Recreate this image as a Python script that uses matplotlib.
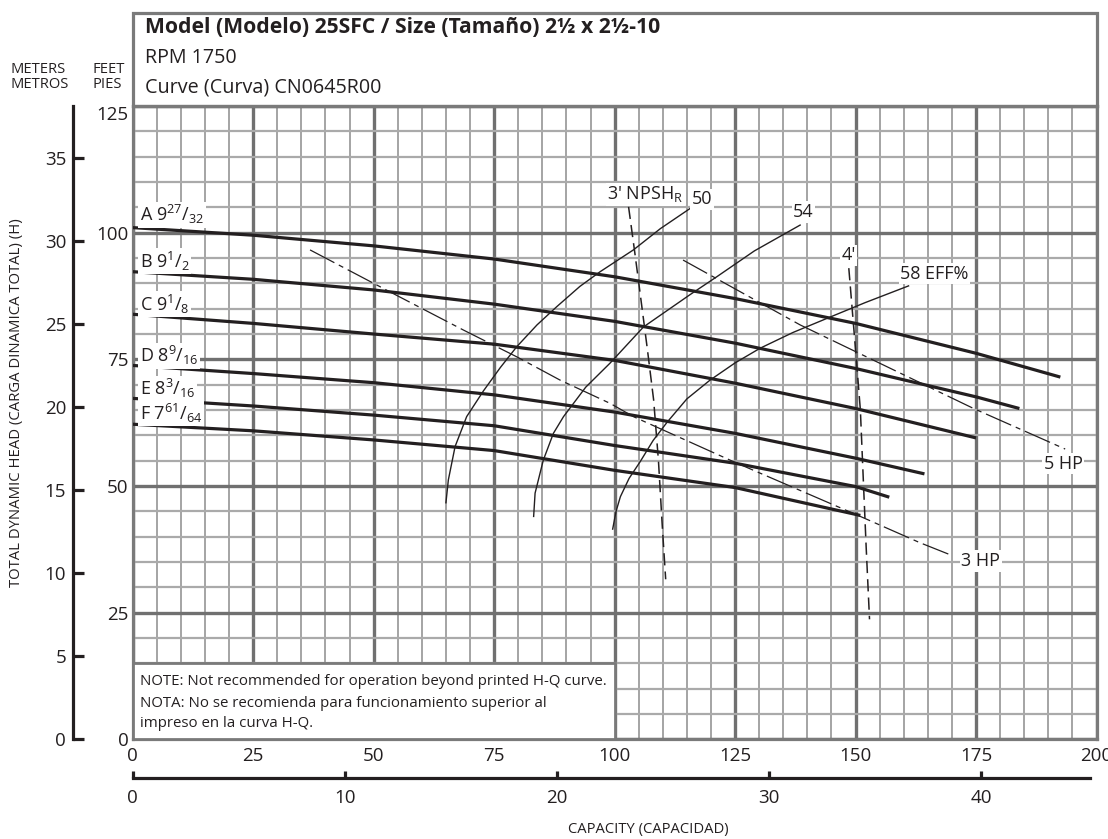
import numpy as np
import matplotlib
matplotlib.use("Agg")
import matplotlib.pyplot as plt
from matplotlib.patches import Rectangle

plt.rcParams['font.family'] = ['Open Sans', 'DejaVu Sans']
plt.rcParams['mathtext.fontset'] = 'custom'
plt.rcParams['mathtext.rm'] = 'Open Sans'
plt.rcParams['mathtext.it'] = 'Open Sans:italic'
plt.rcParams['mathtext.bf'] = 'Open Sans:bold'
plt.rcParams['mathtext.default'] = 'regular'

# ---------------------------------------------------------------- data
# Impeller head-capacity curves: capacity (gpm) and total head (ft)
imp_labels = [r'A $9^{27}/_{32}$', r'B $9^{1}/_{2}$', r'C $9^{1}/_{8}$',
              r'D $8^{9}/_{16}$', r'E $8^{3}/_{16}$', r'F $7^{61}/_{64}$']
imp_label_head = [103.5, 94.4, 85.9, 75.7, 69.2, 64.4]

q_A = [0, 25, 50, 75, 100, 125, 150, 175, 192.5]
h_A = [101.0, 99.5, 97.4, 94.8, 91.3, 87.0, 82.1, 76.2, 71.5]
q_B = [0, 25, 50, 75, 100, 125, 150, 175, 184]
h_B = [92.3, 90.8, 88.7, 85.9, 82.5, 78.2, 73.2, 67.6, 65.3]
q_C = [0, 25, 50, 75, 100, 125, 150, 175]
h_C = [83.9, 82.1, 80.0, 78.0, 74.8, 70.3, 65.3, 59.5]
q_D = [0, 25, 50, 75, 100, 125, 150, 164.3]
h_D = [73.8, 72.2, 70.4, 68.0, 64.6, 60.4, 55.5, 52.4]
q_E = [0, 25, 50, 75, 100, 125, 150, 157]
h_E = [67.3, 65.8, 64.0, 61.9, 58.0, 54.5, 49.9, 47.8]
q_F = [0, 25, 50, 75, 100, 125, 151]
h_F = [62.2, 60.9, 59.1, 57.0, 53.1, 49.7, 44.2]

# Efficiency iso-lines (%)
q_eff50 = [65.0, 65.5, 66.9, 69.3, 72.8, 76.3, 79.7, 83.9, 88.0, 92.8, 97.0, 103.9, 109.5, 115.7]
h_eff50 = [46.7, 51.2, 57.8, 63.7, 68.8, 73.4, 77.5, 81.8, 85.4, 89.4, 92.3, 96.6, 100.8, 104.8]
q_eff54 = [83.2, 83.5, 85.2, 87.3, 89.4, 94.0, 99.1, 106.0, 115.7, 121.2, 129.0, 138.5]
h_eff54 = [44.0, 48.6, 55.1, 60.4, 63.7, 69.5, 74.3, 81.4, 87.8, 91.3, 96.4, 101.5]
q_eff58 = [99.6, 100.3, 101.2, 103.0, 105.3, 108.0, 110.9, 115.0, 119.8, 125.0, 130.2, 137.0, 144.1, 152.0, 161.0]
h_eff58 = [41.5, 45.0, 47.9, 51.5, 54.8, 59.0, 62.6, 67.2, 70.9, 74.3, 77.2, 80.3, 83.1, 86.2, 89.5]

# Required NPSH lines (ft)
q_npsh3 = [102.9, 104.2, 105.3, 106.8, 108.1, 109.1, 109.9, 110.6]
h_npsh3 = [105.1, 96.0, 88.0, 77.0, 67.0, 55.0, 42.0, 31.6]
q_npsh4 = [148.6, 150.0, 151.0, 151.7, 152.2, 152.9]
h_npsh4 = [93.0, 76.9, 65.0, 49.2, 38.0, 23.7]

# Motor power lines (HP)
q_hp3 = [36.8, 52.0, 68.6, 79.7, 88.7, 99.1, 103.9, 124.7, 151.0, 163.4, 170.0]
h_hp3 = [96.6, 89.0, 80.8, 75.5, 70.9, 66.3, 63.7, 54.8, 44.0, 38.8, 36.3]
q_hp5 = [114.2, 138.5, 155.1, 174.5, 193.5]
h_hp5 = [94.6, 81.8, 74.2, 65.3, 57.3]

gpm_ticks = [0, 25, 50, 75, 100, 125, 150, 175, 200]
ft_ticks = [0, 25, 50, 75, 100, 125]
m_ticks = [0, 5, 10, 15, 20, 25, 30, 35]
m3h_ticks = [0, 10, 20, 30, 40]

FT_PER_M = 3.28084
GPM_PER_M3H = 4.402868

# ---------------------------------------------------------------- style
INK = '#231f20'
FRAME = '#7a7a7a'
W, H = 1108, 839


def fx(px):
    return px / W


def fy(py):
    return 1 - py / H


fig = plt.figure(figsize=(W / 100, H / 100), dpi=100)
fig.patch.set_facecolor('white')

L, R, T, B = 132.7, 1096.5, 106.0, 739.4
ax = fig.add_axes([fx(L), fy(B), fx(R) - fx(L), fy(T) - fy(B)])
ax.set_xlim(0, 200)
ax.set_ylim(0, 125)
ax.set_xticks(gpm_ticks)
ax.set_yticks(ft_ticks)
ax.set_xticks(np.arange(0, 201, 5), minor=True)
ax.set_yticks(np.arange(0, 126, 5), minor=True)
ax.set_axisbelow(True)
ax.xaxis.grid(True, which='minor', color='#8c8c8c', lw=1.1)
ax.yaxis.grid(True, which='minor', color='#aaaaaa', lw=1.6)
ax.xaxis.grid(True, which='major', color='#707070', lw=2.4)
ax.yaxis.grid(True, which='major', color='#707070', lw=2.4)
ax.tick_params(which='both', length=0, labelsize=13.5, colors=INK)
ax.tick_params(axis='x', pad=5.5)
ax.tick_params(axis='y', pad=3.2)
for s in ax.spines.values():
    s.set_color(FRAME)
    s.set_linewidth(2.3)
ax.get_yticklabels()[-1].set_va('top')

# Head-capacity curves
for q, h in [(q_A, h_A), (q_B, h_B), (q_C, h_C), (q_D, h_D), (q_E, h_E), (q_F, h_F)]:
    ax.plot(q, h, color=INK, lw=2.3, solid_capstyle='butt', zorder=3)

box = dict(facecolor='white', edgecolor='none', pad=1.2)
for lab, hy in zip(imp_labels, imp_label_head):
    ax.text(1.5, hy, lab, ha='left', va='center', fontsize=13, color=INK,
            bbox=box, zorder=5)

# Efficiency
for q, h in [(q_eff50, h_eff50), (q_eff54, h_eff54), (q_eff58, h_eff58)]:
    ax.plot(q, h, color=INK, lw=1.0, zorder=3)

# NPSH
for q, h in [(q_npsh3, h_npsh3), (q_npsh4, h_npsh4)]:
    ax.plot(q, h, color=INK, lw=1.1, dashes=(8, 4), zorder=3)

# Horsepower
for q, h in [(q_hp3, h_hp3), (q_hp5, h_hp5)]:
    ax.plot(q, h, color=INK, lw=0.9, dashes=(22, 4, 4, 4), zorder=3)

ax.text(98.5, 107.6, r"3' NPSH$_{R}$", ha='left', va='center', fontsize=13,
        color=INK, bbox=box, zorder=5)
ax.text(118.2, 106.6, '50', ha='center', va='center', fontsize=13, color=INK,
        bbox=box, zorder=5)
ax.text(139.2, 104.1, '54', ha='center', va='center', fontsize=13, color=INK,
        bbox=box, zorder=5)
ax.text(148.5, 95.5, "4'", ha='center', va='center', fontsize=13, color=INK,
        bbox=box, zorder=5)
ax.text(159.3, 91.9, '58 EFF%', ha='left', va='center', fontsize=13, color=INK,
        bbox=box, zorder=5)
ax.text(193.1, 54.4, '5 HP', ha='center', va='center', fontsize=13, color=INK,
        bbox=box, zorder=5)
ax.text(176.0, 35.2, '3 HP', ha='center', va='center', fontsize=13, color=INK,
        bbox=box, zorder=5)

# Operating note
ax.add_patch(Rectangle((0, 0), 100, 15, facecolor='white', edgecolor=FRAME,
                       lw=2.0, zorder=4))
note_lines = ['NOTE: Not recommended for operation beyond printed H-Q curve.',
              'NOTA: No se recomienda para funcionamiento superior al',
              'impreso en la curva H-Q.']
for line, base in zip(note_lines, [685, 707, 727]):
    fig.text(fx(140), fy(base), line, ha='left', va='baseline', fontsize=10.8,
             color=INK, zorder=6)

# Header box
fig.add_artist(Rectangle((fx(L), fy(T)), fx(R) - fx(L), fy(13) - fy(T),
                         transform=fig.transFigure, fill=False,
                         edgecolor=FRAME, lw=2.3))
fig.text(fx(145), fy(33), 'Model (Modelo) 25SFC / Size (Tamaño) 2½ x 2½-10',
         ha='left', va='baseline', fontsize=15.2, fontweight='bold', color=INK)
fig.text(fx(145), fy(63), 'RPM 1750', ha='left', va='baseline', fontsize=14.2,
         color=INK)
fig.text(fx(145), fy(92), 'Curve (Curva) CN0645R00', ha='left', va='baseline',
         fontsize=14.2, color=INK)

# Unit captions
fig.text(fx(10), fy(73), 'METERS', ha='left', va='baseline', fontsize=10.6, color=INK)
fig.text(fx(10), fy(88.5), 'METROS', ha='left', va='baseline', fontsize=10.6, color=INK)
fig.text(fx(93), fy(73), 'FEET', ha='left', va='baseline', fontsize=10.6, color=INK)
fig.text(fx(93), fy(88.5), 'PIES', ha='left', va='baseline', fontsize=10.6, color=INK)

# Metric head scale
axm = fig.add_axes([fx(72.5), fy(B), 0.0005, fy(T) - fy(B)])
axm.set_ylim(0, 125 / FT_PER_M)
axm.set_yticks(m_ticks)
axm.set_xticks([])
axm.patch.set_visible(False)
for side in ['right', 'top', 'bottom']:
    axm.spines[side].set_visible(False)
axm.spines['left'].set_color(INK)
axm.spines['left'].set_linewidth(2.3)
axm.tick_params(axis='y', direction='in', length=7.8, width=2.3, labelsize=13.5,
                pad=4.5, colors=INK)

# Metric capacity scale
axq = fig.add_axes([fx(L), fy(777.7), fx(R) - fx(L), 0.0005])
axq.set_xlim(0, 200 / GPM_PER_M3H)
axq.set_xticks(m3h_ticks)
axq.set_yticks([])
axq.patch.set_visible(False)
for side in ['left', 'right', 'top']:
    axq.spines[side].set_visible(False)
axq.spines['bottom'].set_color(INK)
axq.spines['bottom'].set_linewidth(2.3)
axq.spines['bottom'].set_bounds(0, 198.7 / GPM_PER_M3H)
axq.tick_params(axis='x', direction='in', length=5, width=2.3, labelsize=13.5,
                pad=8, colors=INK)

# Axis titles
fig.text(fx(648), fy(833), 'CAPACITY (CAPACIDAD)', ha='center', va='baseline',
         fontsize=10.6, color=INK)
fig.text(fx(17), fy(402.5), 'TOTAL DYNAMIC HEAD (CARGA DINAMICA TOTAL) (H)',
         ha='center', va='center', rotation=90, fontsize=10.7, color=INK)

fig.savefig('out.png', dpi=100, facecolor='white')
